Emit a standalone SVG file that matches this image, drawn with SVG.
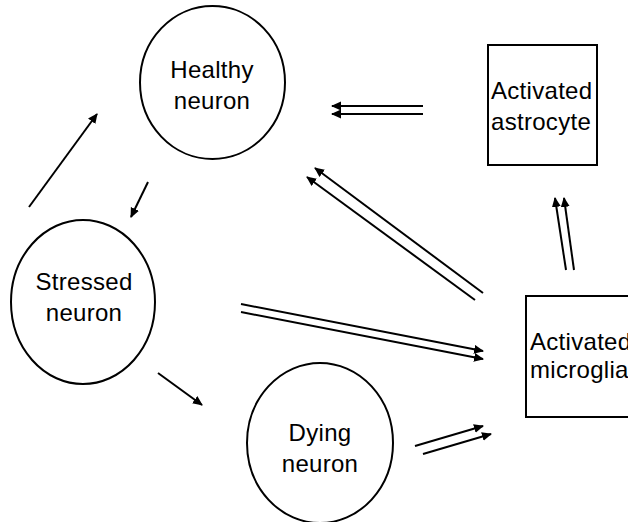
<svg xmlns="http://www.w3.org/2000/svg" width="628" height="522" viewBox="0 0 628 522">
<style>
.node{fill:#fff;stroke:#000;stroke-width:2}
.lbl{font-family:"Liberation Sans",Arial,sans-serif;font-size:24px;fill:#000;letter-spacing:0.3px}
.c{text-anchor:middle}
.e line{stroke:#000;stroke-width:2;marker-end:url(#ah)}
</style>
<defs>
<marker id="ah" markerUnits="userSpaceOnUse" markerWidth="12" markerHeight="10" refX="9" refY="4.5" orient="auto">
<path d="M0,0 L10,4.5 L0,9 Z" fill="#000"/>
</marker>
</defs>
<rect width="628" height="522" fill="#fff"/>
<g id="healthy">
<ellipse class="node" cx="212.5" cy="82.5" rx="72.5" ry="76.5"/>
<text class="lbl c" x="212" y="78">Healthy</text>
<text class="lbl c" x="212" y="109">neuron</text>
</g>
<g id="stressed">
<ellipse class="node" cx="83" cy="302" rx="72" ry="82"/>
<text class="lbl c" x="84" y="290">Stressed</text>
<text class="lbl c" x="84" y="321">neuron</text>
</g>
<g id="dying">
<ellipse class="node" cx="320" cy="443" rx="73" ry="80"/>
<text class="lbl c" x="320" y="441">Dying</text>
<text class="lbl c" x="320" y="472">neuron</text>
</g>
<g id="astrocyte">
<rect class="node" x="488" y="45" width="109" height="120"/>
<text class="lbl" x="491" y="99">Activated</text>
<text class="lbl" x="491" y="130">astrocyte</text>
</g>
<g id="microglia">
<rect class="node" x="526" y="296" width="110" height="121"/>
<text class="lbl" x="530" y="350">Activated</text>
<text class="lbl" x="530" y="378">microglia</text>
</g>
<g id="connectors" class="e">
<line x1="29" y1="207" x2="97" y2="114"/>
<line x1="148" y1="182" x2="131" y2="217"/>
<line x1="158" y1="373" x2="202" y2="405"/>
<line x1="423" y1="106" x2="332" y2="106"/>
<line x1="423" y1="114" x2="332" y2="114"/>
<line x1="483" y1="293" x2="315" y2="168"/>
<line x1="475" y1="300" x2="307" y2="177"/>
<line x1="241" y1="304" x2="483" y2="351"/>
<line x1="241" y1="312" x2="483" y2="359"/>
<line x1="415" y1="446" x2="483" y2="426"/>
<line x1="423" y1="454" x2="491" y2="434"/>
<line x1="566" y1="270" x2="555" y2="198"/>
<line x1="574" y1="270" x2="564" y2="198"/>
</g>
</svg>
